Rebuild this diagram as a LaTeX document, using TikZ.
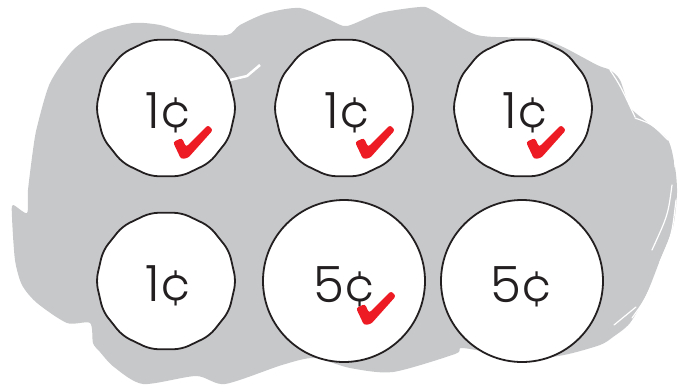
\documentclass[tikz,border=0pt]{standalone}
\usepackage{fontspec}
\newfontfamily\coinfont{Poppins Light}
\usetikzlibrary{shapes.geometric}
\definecolor{blobgray}{HTML}{C7C8CA}
\definecolor{checkred}{HTML}{ED1C24}
\definecolor{inkblack}{HTML}{231F20}
\tikzset{
 smallcoin/.style={regular polygon, regular polygon sides=14, minimum size=140pt, inner sep=0pt, draw=inkblack, fill=white, line width=1.8pt, rounded corners=8pt},
 bigcoin/.style={circle, minimum size=162pt, inner sep=0pt, draw=inkblack, fill=white, line width=1.8pt},
 value/.style={anchor=base, font=\coinfont\fontsize{50}{50}\selectfont, text=inkblack, inner sep=0pt},
 streak/.style={draw=white, line width=1.2pt, line cap=round},
 checkmark/.pic={\fill[checkred, rounded corners=2.5pt] (-10,-15) -- (-1,-19) -- (3,-10) -- (25,-32) -- (30,-27) -- (5,1) -- (-2,2) -- cycle;}
}
\begin{document}
\begin{tikzpicture}[x=1pt,y=-1pt]
\useasboundingbox (0,0) rectangle (678,384);
\begin{scope}
\clip (0,0) rectangle (678,384);
\fill[blobgray] plot[smooth cycle, tension=0.45] coordinates {
(37,127) (50,83) (73,50) (100,32) (133,23) (160,25) (187,33) (227,35) (240,25) (267,13) (300,8) (330,20) (347,26) (380,13) (420,7) (432,10) (477,35) (537,38) (563,47) (597,65) (610,70) (620,80) (630,107) (647,122) (668,140) (675,167) (677,193) (673,227) (660,260) (647,293) (630,323) (613,337) (600,345) (564,355) (521,360) (486,352) (461,348) (455,354) (393,372) (350,368) (314,358) (282,365) (225,384) (196,376) (143,384) (114,367) (100,352) (93,343) (90,323) (67,323) (37,303) (22,285) (15,260) (12,217) (13,205) (27,213) (28,190) (33,150)};
\draw[white, line width=2.5pt, line join=round] (230,80) -- (247,76) -- (260,65);
\draw[streak] (610,70) .. controls (620,85) .. (635,117);
\draw[streak] (635,118) .. controls (652,124) .. (668,140);
\draw[streak] (667,135) .. controls (674,150) .. (675,167);
\draw[streak] (672,185) .. controls (668,215) .. (652,250);
\draw[streak] (676,200) .. controls (672,235) .. (660,262);
\draw[streak] (654,280) .. controls (645,300) .. (632,318);
\draw[streak] (614,325) -- (636,307);
\end{scope}
\node[smallcoin] (c1) at (166,108) {};
\node[smallcoin] (c2) at (344,108) {};
\node[smallcoin] (c3) at (523,108) {};
\node[smallcoin] (c4) at (166,281) {};
\node[bigcoin] (c5) at (344,281) {};
\node[bigcoin] (c6) at (522,281) {};
\node[value] (t1) at ([shift={(3,20)}]c1.center) {1¢};
\node[value] (t2) at ([shift={(4,20)}]c2.center) {1¢};
\node[value] (t3) at ([shift={(3,20)}]c3.center) {1¢};
\node[value] (t4) at ([shift={(3,20)}]c4.center) {1¢};
\node[value] (t5) at ([shift={(1,21)}]c5.center) {5¢};
\node[value] (t6) at ([shift={(0,21)}]c6.center) {5¢};
\pic at ([shift={(17,49)}]c1.center) {checkmark};
\pic at ([shift={(21,49)}]c2.center) {checkmark};
\pic at ([shift={(13,49)}]c3.center) {checkmark};
\pic at ([shift={(22,42)}]c5.center) {checkmark};
\end{tikzpicture}
\end{document}
